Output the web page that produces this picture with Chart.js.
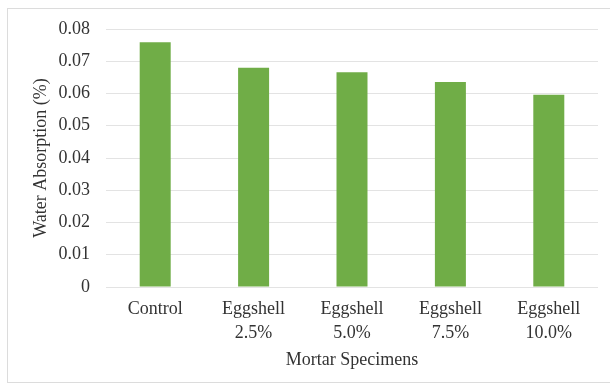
<!DOCTYPE html>
<html>
<head>
<meta charset="utf-8">
<script src="https://cdn.jsdelivr.net/npm/chart.js@4"></script>
<style>
  html, body { margin: 0; padding: 0; background: #fff; }
  #wrap { position: relative; width: 610px; height: 392px; }
  #frame { position: absolute; left: 7px; top: 8px; width: 610px; height: 375px;
           border: 1px solid #dcdcdc; box-sizing: border-box; }
  canvas { position: absolute; left: 0; top: 0; }
</style>
</head>
<body>
<div id="wrap">
  <div id="frame"></div>
  <canvas id="c" width="610" height="392"></canvas>
</div>
<script>
// Water absorption of mortar specimens by eggshell replacement level
const categories = [['Control'], ['Eggshell', '2.5%'], ['Eggshell', '5.0%'], ['Eggshell', '7.5%'], ['Eggshell', '10.0%']];
const absorption = [0.0759, 0.0680, 0.0666, 0.0636, 0.0596];
const yTicks = [0, 0.01, 0.02, 0.03, 0.04, 0.05, 0.06, 0.07, 0.08];

const serif = { family: '"Liberation Serif", "Times New Roman", serif', size: 18, lineHeight: 1.33 };
const serifTight = { ...serif, lineHeight: 1.2 };
const ink = '#333333';

new Chart(document.getElementById('c'), {
  type: 'bar',
  data: {
    labels: categories,
    datasets: [{
      data: absorption,
      backgroundColor: '#70ad47',
      borderWidth: 0,
      categoryPercentage: 1,
      barPercentage: 0.315
    }]
  },
  options: {
    responsive: false,
    animation: false,
    layout: { padding: { left: 30, right: 12, top: 29, bottom: 21 } },
    plugins: { legend: { display: false }, tooltip: { enabled: false } },
    scales: {
      x: {
        grid: { display: false, drawTicks: false },
        border: { display: false },
        ticks: { font: serif, color: ink, padding: 10, maxRotation: 0, autoSkip: false },
        title: { display: true, text: 'Mortar Specimens', font: serifTight, color: ink, padding: { top: 4, bottom: 0 } },
        afterFit: s => { s.height = 84; }
      },
      y: {
        min: 0, max: 0.08,
        afterBuildTicks: s => { s.ticks = yTicks.map(v => ({ value: v })); },
        grid: { color: '#e3e3e3', lineWidth: 1, drawTicks: false },
        border: { display: false },
        ticks: { font: serifTight, color: ink, padding: 16, callback: v => String(+v.toFixed(2)) },
        title: { display: true, text: 'Water Absorption (%)', font: serifTight, color: ink, padding: { top: 0, bottom: 4 } },
        afterFit: s => { s.width = 76; }
      }
    }
  }
});
</script>
</body>
</html>
